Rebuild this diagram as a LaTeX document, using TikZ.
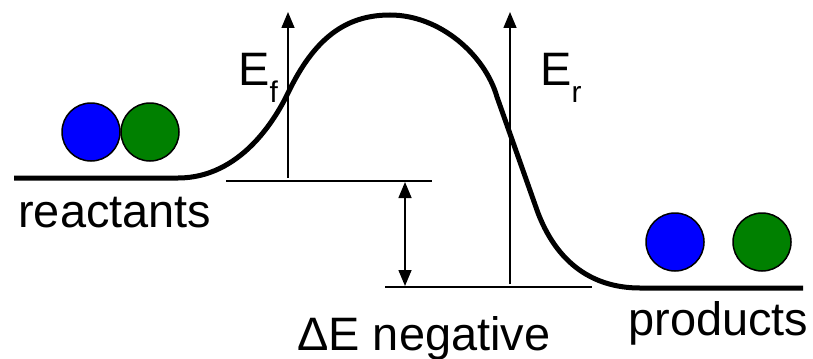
\documentclass[tikz,border=0pt]{standalone}
\usepackage{fontspec}
\setmainfont{Liberation Sans}
\usetikzlibrary{arrows.meta}
\definecolor{ballblue}{HTML}{0000FF}
\definecolor{ballgreen}{HTML}{008000}
\newcommand{\lowsub}[1]{\raisebox{-.36em}{\fontsize{17}{17}\selectfont #1}}

\begin{document}
\begin{tikzpicture}[x=.02cm,y=-.02cm,font=\fontsize{26.7}{32}\selectfont,
  >={Triangle[length=.32cm,width=.26cm]},line join=round,
  profile/.style={line width=.1cm},
  guide/.style={line width=.03cm},
  ball/.style={draw,line width=.03cm}]
  \useasboundingbox (0,0) rectangle (813,358);

  % energy profile
  \coordinate (R0) at (14,178);
  \coordinate (R1) at (178,178);
  \coordinate (P0) at (640,288);
  \coordinate (P1) at (803,288);
  \draw[profile] (R0) -- (R1)
    .. controls (240,178) and (275,120) .. (288,93)
    .. controls (314,39) and (345,15) .. (390,15)
    .. controls (440,15) and (485,55) .. (497,97)
    -- (538,213)
    .. controls (560,270) and (600,288) .. (P0) -- (P1);

  % reference levels
  \coordinate (U0) at (226,181);
  \coordinate (U1) at (432,181);
  \coordinate (L0) at (385,287);
  \coordinate (L1) at (592,287);
  \draw[guide] (U0) -- (U1);
  \draw[guide] (L0) -- (L1);

  % arrows
  \coordinate (Fa) at (288,178);
  \coordinate (Fb) at (288,12);
  \coordinate (Ra) at (510,284);
  \coordinate (Rb) at (510,12);
  \coordinate (Da) at (405,182);
  \coordinate (Db) at (405,286);
  \draw[guide,->] (Fa) -- (Fb);
  \draw[guide,->] (Ra) -- (Rb);
  \draw[guide,<->] (Da) -- (Db);

  % molecules
  \draw[ball,fill=ballblue] (91,132) circle (29) coordinate (rb);
  \draw[ball,fill=ballgreen] (150,132) circle (29) coordinate (rg);
  \draw[ball,fill=ballblue] (675,242) circle (29) coordinate (pb);
  \draw[ball,fill=ballgreen] (762,242) circle (29) coordinate (pg);

  % labels
  \node[anchor=base west,inner sep=0] (reac) at (18,227) {reactants};
  \node[anchor=base west,inner sep=0] (prod) at (628,335) {products};
  \node[anchor=base west,inner sep=0] (dE) at (297,350) {ΔE negative};
  \node[anchor=base west,inner sep=0] (Ef) at (238,86) {E\lowsub{f}};
  \node[anchor=base west,inner sep=0] (Er) at (540,86) {E\lowsub{r}};
\end{tikzpicture}
\end{document}
